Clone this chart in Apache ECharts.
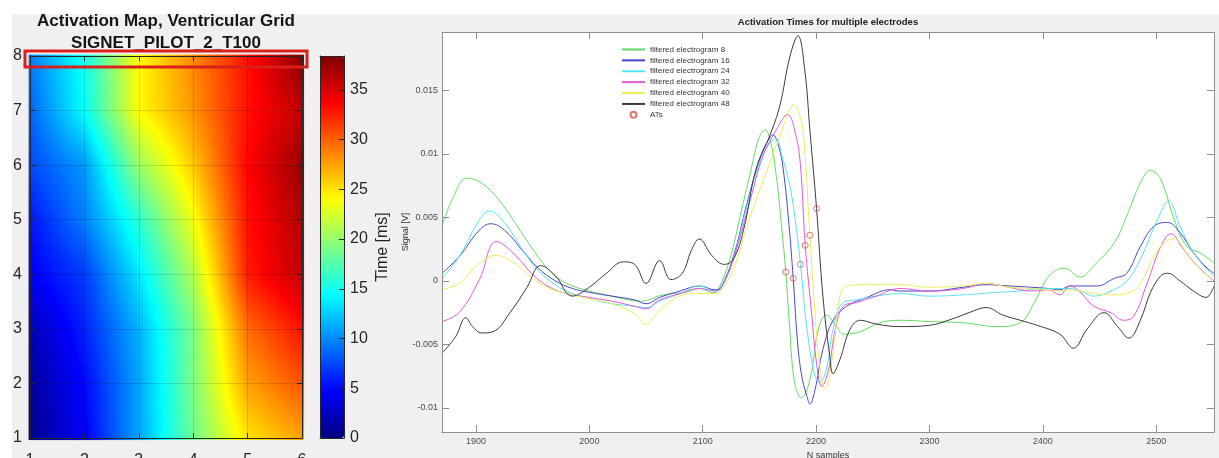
<!DOCTYPE html>
<html>
<head>
<meta charset="utf-8">
<script src="https://cdn.jsdelivr.net/npm/echarts@6/dist/echarts.min.js"></script>
<style>
  html, body { margin: 0; padding: 0; background: #ffffff; }
  #chart { width: 1219px; height: 458px; }
</style>
</head>
<body>
<div id="chart"></div>
<script>
// ---------- Activation map: 6 x 8 electrode grid ----------
const gridCols = [1, 2, 3, 4, 5, 6];
const gridRows = [1, 2, 3, 4, 5, 6, 7, 8];
// activation time in ms, one row per grid row (y = 1 at the bottom up to y = 8)
const activationMs = [
  [0.5, 4.5, 11.0, 18.5, 25.0, 27.5],
  [1.0, 5.0, 11.0, 19.0, 27.5, 30.5],
  [2.0, 6.0, 11.5, 19.0, 29.5, 33.0],
  [4.5, 7.0, 13.5, 21.0, 32.5, 36.0],
  [5.5, 9.5, 16.0, 23.5, 33.0, 36.5],
  [7.5, 10.5, 20.0, 26.0, 33.5, 37.5],
  [8.5, 14.5, 24.0, 28.0, 33.0, 36.0],
  [9.5, 15.0, 24.0, 28.5, 33.0, 38.0]
];
const colorbarMax = 38.4;
const colorbarTicks = [0, 5, 10, 15, 20, 25, 30, 35];

// ---------- Electrogram traces ----------
const xTicks = [1900, 2000, 2100, 2200, 2300, 2400, 2500];
const yTicks = [-0.01, -0.005, 0, 0.005, 0.01, 0.015];

const egm8 = [[1870,0.0043],[1880,0.0066],[1892,0.0081],[1905,0.0077],[1920,0.0064],[1935,0.0045],[1950,0.0025],[1965,0.0008],[1980,-0.0002],[2000,-0.0008],[2020,-0.0012],[2045,-0.0016],[2065,-0.0011],[2085,-0.0009],[2097,-0.0006],[2110,-0.00095],[2115,-0.0004],[2121,0.0009],[2127,0.0027],[2133,0.0051],[2142,0.0085],[2149,0.0111],[2155,0.0119],[2160,0.0109],[2165,0.0082],[2169,0.0048],[2173.3,0.0007],[2176,-0.0028],[2181,-0.0080],[2187,-0.0092],[2194.5,-0.0078],[2202,-0.0038],[2209,-0.0027],[2218,-0.0036],[2224,-0.0042],[2239,-0.0040],[2256,-0.0033],[2274,-0.0031],[2300,-0.0032],[2330,-0.0033],[2360,-0.0036],[2380,-0.0033],[2392,-0.0018],[2403,0.0001],[2411,0.0008],[2419,0.0010],[2433,0.0003],[2445,0.0012],[2463,0.0030],[2474,0.0051],[2486,0.0077],[2495,0.0087],[2504,0.0080],[2516,0.0048],[2527,0.0027],[2539,0.0022],[2551,0.0014]];

const egm16 = [[1870,0.0006],[1885,0.0019],[1903,0.0040],[1913,0.0045],[1925,0.0040],[1940,0.0025],[1955,0.0010],[1970,0.0000],[1985,-0.0006],[2000,-0.0009],[2020,-0.0012],[2040,-0.0015],[2050,-0.0018],[2062,-0.0013],[2080,-0.0008],[2097,-0.0004],[2111,-0.0007],[2116,-0.0005],[2127,0.0019],[2139,0.0061],[2150,0.0095],[2156,0.0108],[2162,0.0115],[2167,0.0106],[2171,0.0088],[2176,0.0045],[2179.8,0.0002],[2184,-0.0052],[2188,-0.0078],[2192,-0.0091],[2194.5,-0.0097],[2199,-0.0086],[2206,-0.0054],[2215,-0.0031],[2227,-0.0020],[2245,-0.0013],[2265,-0.0007],[2274,-0.0008],[2300,-0.0008],[2330,-0.0005],[2350,-0.0003],[2370,-0.0004],[2390,-0.0005],[2405,-0.0006],[2415,-0.0007],[2424,-0.0004],[2433,-0.0004],[2448,-0.0004],[2463,0.0002],[2474,0.0006],[2486,0.0027],[2498,0.0043],[2510,0.0046],[2521,0.0038],[2533,0.0022],[2545,0.0010],[2551,0.0006]];

const egm24 = [[1870,0.0002],[1885,0.0019],[1903,0.0048],[1912,0.0055],[1925,0.0046],[1940,0.0026],[1955,0.0008],[1970,-0.0003],[1985,-0.0010],[2000,-0.0014],[2020,-0.0018],[2040,-0.0020],[2050,-0.0021],[2062,-0.0016],[2080,-0.0010],[2097,-0.0004],[2111,-0.0008],[2116,-0.0006],[2127,0.0017],[2139,0.0059],[2150,0.0093],[2158,0.0107],[2164.5,0.0112],[2170,0.0098],[2177,0.0074],[2182,0.0045],[2186.2,0.0013],[2192,-0.0038],[2199,-0.0075],[2203,-0.0080],[2209,-0.0070],[2215,-0.0038],[2224,-0.0017],[2236,-0.0015],[2253,-0.0012],[2274,-0.0010],[2300,-0.0012],[2330,-0.0011],[2360,-0.0009],[2380,-0.0008],[2400,-0.0006],[2415,-0.0006],[2424,-0.0006],[2433,-0.0008],[2445,-0.0012],[2460,-0.0008],[2474,0.0000],[2486,0.0017],[2501,0.0048],[2511,0.0063],[2521,0.0043],[2533,0.0022],[2545,0.0009],[2551,0.0004]];

const egm32 = [[1870,-0.0032],[1885,-0.0025],[1903,0.0001],[1918,0.0031],[1935,0.0020],[1950,0.0005],[1965,-0.0005],[1980,-0.0010],[2000,-0.0013],[2020,-0.0016],[2040,-0.0020],[2050,-0.0022],[2062,-0.0015],[2080,-0.0010],[2097,-0.0006],[2111,-0.0008],[2116,-0.0006],[2127,0.0017],[2142,0.0064],[2153,0.0098],[2165,0.0119],[2175,0.0131],[2181,0.0119],[2186,0.0093],[2190.4,0.0028],[2196,-0.0025],[2200.4,-0.0065],[2205,-0.0083],[2211,-0.0070],[2217,-0.0038],[2224,-0.0020],[2236,-0.0017],[2253,-0.0012],[2274,-0.0006],[2300,-0.0008],[2330,-0.0006],[2350,-0.0002],[2370,-0.0005],[2390,-0.0008],[2405,-0.0007],[2415,-0.0011],[2424,-0.0004],[2433,-0.0009],[2445,-0.0020],[2460,-0.0025],[2471,-0.0031],[2480,-0.0028],[2492,-0.0002],[2504,0.0027],[2513,0.0037],[2524,0.0025],[2536,0.0012],[2551,0.0000]];

const egm40 = [[1870,-0.0007],[1885,-0.0002],[1903,0.0014],[1918,0.0020],[1935,0.0013],[1950,0.0002],[1965,-0.0006],[1980,-0.0010],[2000,-0.0014],[2020,-0.0018],[2040,-0.0026],[2050,-0.0034],[2060,-0.0025],[2075,-0.0014],[2090,-0.0010],[2097,-0.0010],[2111,-0.0010],[2116,-0.0008],[2127,0.0009],[2142,0.0051],[2156,0.0085],[2168,0.0114],[2175,0.0131],[2180.3,0.0139],[2185,0.0132],[2189,0.0114],[2194.5,0.0036],[2199,-0.0025],[2203,-0.0065],[2208,-0.0085],[2215,-0.0056],[2221,-0.0012],[2227,-0.0004],[2245,-0.0003],[2274,-0.0003],[2300,-0.0005],[2330,-0.0004],[2350,-0.0002],[2370,-0.0005],[2390,-0.0006],[2405,-0.0007],[2415,-0.0008],[2424,-0.0007],[2433,-0.0008],[2445,-0.0010],[2460,-0.0011],[2477,-0.0009],[2486,-0.0002],[2498,0.0019],[2507,0.0030],[2516,0.0033],[2527,0.0022],[2539,0.0009],[2551,0.0001]];

const egm48 = [[1870,-0.0057],[1882,-0.0044],[1891,-0.0029],[1897,-0.0036],[1905,-0.0041],[1915,-0.0040],[1930,-0.0025],[1945,-0.0005],[1957,0.0012],[1970,0.0004],[1985,-0.0012],[2000,-0.0005],[2015,0.0006],[2030,0.0015],[2040,0.0013],[2050,-0.0002],[2062,0.0016],[2072,0.0001],[2082,0.0006],[2090,0.0024],[2097,0.0033],[2108,0.0020],[2119,0.0013],[2127,0.0017],[2136,0.0040],[2147,0.0088],[2159,0.0114],[2168,0.0138],[2177,0.0177],[2184,0.0193],[2190,0.0166],[2194.5,0.0119],[2200.4,0.0057],[2206,-0.0012],[2212,-0.0059],[2215,-0.0073],[2221,-0.0062],[2230,-0.0038],[2239,-0.0031],[2253,-0.0034],[2274,-0.0036],[2300,-0.0035],[2320,-0.0030],[2335,-0.0025],[2350,-0.0021],[2365,-0.0027],[2380,-0.0031],[2395,-0.0035],[2415,-0.0042],[2427,-0.0053],[2439,-0.0038],[2454,-0.0025],[2466,-0.0036],[2476,-0.0045],[2486,-0.0031],[2495,-0.0009],[2504,0.0004],[2510,0.0006],[2521,0.0000],[2533,-0.0008],[2544,-0.0013],[2551,-0.0004]];

// activation time picked on each trace (sample, signal)
const atPoints = [[2173.3,0.0007],[2179.8,0.0002],[2186.2,0.0013],[2190.4,0.0028],[2194.5,0.0036],[2200.4,0.0057]];

const traceNames = ['filtered electrogram 8', 'filtered electrogram 16', 'filtered electrogram 24',
                    'filtered electrogram 32', 'filtered electrogram 40', 'filtered electrogram 48'];
const traceData = [egm8, egm16, egm24, egm32, egm40, egm48];
const traceColors = ['#62da62', '#4646c8', '#55e2f2', '#dc58dc', '#ecec5a', '#3a3a3a'];

const FONT = '"Liberation Sans", Arial, Helvetica, sans-serif';
const JET = ['#000080', '#0000ff', '#0080ff', '#00ffff', '#80ff80', '#ffff00', '#ff8000', '#ff0000', '#800000'];

// Interpolated shading between the electrode nodes (bilinear inside each grid cell)
const SUB = 20;
function nodeValue(x, y) {
  const nx = gridCols.length - 1, ny = gridRows.length - 1;
  const gx = x - gridCols[0], gy = y - gridRows[0];
  const i = Math.min(Math.floor(gx), nx - 1), j = Math.min(Math.floor(gy), ny - 1);
  const fx = gx - i, fy = gy - j;
  const a = activationMs[j][i], b = activationMs[j][i + 1];
  const c = activationMs[j + 1][i], d = activationMs[j + 1][i + 1];
  return (a * (1 - fx) + b * fx) * (1 - fy) + (c * (1 - fx) + d * fx) * fy;
}
const shading = [];
for (let i = 0; i <= (gridCols.length - 1) * SUB; i++) {
  const x = gridCols[0] + i / SUB;
  for (let j = 0; j <= (gridRows.length - 1) * SUB; j++) {
    const y = gridRows[0] + j / SUB;
    shading.push([x, y, nodeValue(x, y)]);
  }
}

const chart = echarts.init(document.getElementById('chart'), null, { renderer: 'canvas' });

const mapAxisLine = { show: true, onZero: false, lineStyle: { color: '#262626', width: 1 } };
const sigAxisLine = { show: true, onZero: false, lineStyle: { color: '#8f8f8f', width: 1 } };
const plainNumber = v => String(+Number(v).toFixed(4));
// line legend entries show only the stroke, no marker
const hiddenMarker = { color: 'rgba(0,0,0,0)', borderColor: 'rgba(0,0,0,0)', borderWidth: 0, opacity: 0 };

const option = {
  animation: false,
  backgroundColor: '#f0f0f0',
  title: [
    {
      text: 'Activation Map, Ventricular Grid\nSIGNET_PILOT_2_T100',
      left: 166, top: 10, textAlign: 'center', padding: 0,
      textStyle: { fontFamily: FONT, fontSize: 17, fontWeight: 'bold', lineHeight: 22, color: '#151515' }
    },
    {
      text: 'Activation Times for multiple electrodes',
      left: 828, top: 17, textAlign: 'center', padding: 0,
      textStyle: { fontFamily: FONT, fontSize: 9.5, fontWeight: 'bold', color: '#222222' }
    }
  ],
  legend: {
    orient: 'vertical', left: 621, top: 44, padding: 0,
    itemWidth: 23, itemHeight: 6, itemGap: 0, selectedMode: false,
    textStyle: { fontFamily: FONT, fontSize: 8, lineHeight: 10.9, color: '#333333' },
    data: traceNames.map(n => ({ name: n, itemStyle: hiddenMarker })).concat([{ name: 'ATs' }])
  },
  grid: [
    { left: 30, top: 56, width: 272, height: 382, containLabel: false, outerBoundsMode: 'none' },
    { left: 320, top: 56, width: 24, height: 382, containLabel: false, outerBoundsMode: 'none' },
    { left: 442, top: 32, width: 772, height: 400, containLabel: false, outerBoundsMode: 'none',
      show: true, backgroundColor: '#ffffff', borderWidth: 0 }
  ],
  visualMap: {
    type: 'continuous', seriesIndex: 0, dimension: 2,
    min: 0, max: colorbarMax, calculable: false, realtime: false,
    left: 320, top: 56, itemWidth: 24, itemHeight: 382, padding: 0,
    text: null, showLabel: false, hoverLink: false,
    inRange: { color: JET }
  },
  xAxis: [
    { gridIndex: 0, type: 'value', min: 1, max: 6, interval: 1, position: 'bottom', z: 3,
      axisLine: mapAxisLine, axisTick: { inside: true, length: 5, lineStyle: { color: '#262626' } },
      axisLabel: { fontFamily: FONT, fontSize: 16, color: '#262626', margin: 15 },
      splitLine: { show: true, lineStyle: { color: 'rgba(0,0,0,0.13)', width: 1 } } },
    { gridIndex: 0, type: 'value', min: 1, max: 6, interval: 1, position: 'top', z: 3,
      axisLine: mapAxisLine, axisTick: { inside: true, length: 5, lineStyle: { color: '#262626' } },
      axisLabel: { show: false }, splitLine: { show: false } },
    { gridIndex: 1, type: 'value', min: 0, max: 1, position: 'bottom', z: 5,
      axisLine: mapAxisLine, axisTick: { show: false }, axisLabel: { show: false }, splitLine: { show: false } },
    { gridIndex: 1, type: 'value', min: 0, max: 1, position: 'top', z: 5,
      axisLine: mapAxisLine, axisTick: { show: false }, axisLabel: { show: false }, splitLine: { show: false } },
    { gridIndex: 2, type: 'value', min: 1870, max: 2551, position: 'bottom', z: 3,
      axisLine: sigAxisLine,
      axisTick: { inside: true, length: 7, customValues: xTicks, lineStyle: { color: '#8f8f8f' } },
      axisLabel: { customValues: xTicks, fontFamily: FONT, fontSize: 9, color: '#4d4d4d', margin: 5,
                   formatter: plainNumber },
      splitLine: { show: false },
      name: 'N samples', nameLocation: 'middle', nameGap: 18,
      nameTextStyle: { fontFamily: FONT, fontSize: 9, color: '#333333' } },
    { gridIndex: 2, type: 'value', min: 1870, max: 2551, position: 'top', z: 3,
      axisLine: sigAxisLine,
      axisTick: { inside: true, length: 7, customValues: xTicks, lineStyle: { color: '#8f8f8f' } },
      axisLabel: { show: false }, splitLine: { show: false } }
  ],
  yAxis: [
    { gridIndex: 0, type: 'value', min: 1, max: 8, interval: 1, position: 'left', z: 3,
      axisLine: mapAxisLine, axisTick: { inside: true, length: 5, lineStyle: { color: '#262626' } },
      axisLabel: { fontFamily: FONT, fontSize: 16, color: '#262626', margin: 8 },
      splitLine: { show: true, lineStyle: { color: 'rgba(0,0,0,0.13)', width: 1 } } },
    { gridIndex: 0, type: 'value', min: 1, max: 8, interval: 1, position: 'right', z: 3,
      axisLine: mapAxisLine, axisTick: { inside: true, length: 5, lineStyle: { color: '#262626' } },
      axisLabel: { show: false }, splitLine: { show: false } },
    { gridIndex: 1, type: 'value', min: 0, max: colorbarMax, position: 'right', z: 5,
      axisLine: mapAxisLine,
      axisTick: { inside: true, length: 5, customValues: colorbarTicks, lineStyle: { color: '#262626' } },
      axisLabel: { customValues: colorbarTicks, fontFamily: FONT, fontSize: 16, color: '#262626', margin: 6 },
      splitLine: { show: false },
      name: 'Time [ms]', nameLocation: 'middle', nameRotate: 90, nameGap: 31,
      nameTextStyle: { fontFamily: FONT, fontSize: 16, color: '#262626' } },
    { gridIndex: 1, type: 'value', min: 0, max: colorbarMax, position: 'left', z: 5,
      axisLine: mapAxisLine, axisTick: { show: false }, axisLabel: { show: false }, splitLine: { show: false } },
    { gridIndex: 2, type: 'value', min: -0.0119, max: 0.0196, position: 'left', z: 3,
      axisLine: sigAxisLine,
      axisTick: { inside: true, length: 7, customValues: yTicks, lineStyle: { color: '#8f8f8f' } },
      axisLabel: { customValues: yTicks, fontFamily: FONT, fontSize: 9, color: '#4d4d4d', margin: 4,
                   formatter: plainNumber },
      splitLine: { show: false },
      name: 'Signal [V]', nameLocation: 'middle', nameRotate: 90, nameGap: 32, nameMoveOverlap: false,
      nameTextStyle: { fontFamily: FONT, fontSize: 9, color: '#333333' } },
    { gridIndex: 2, type: 'value', min: -0.0119, max: 0.0196, position: 'right', z: 3,
      axisLine: sigAxisLine,
      axisTick: { inside: true, length: 7, customValues: yTicks, lineStyle: { color: '#8f8f8f' } },
      axisLabel: { show: false }, splitLine: { show: false } }
  ],
  series: [
    {
      type: 'custom', name: 'activation', xAxisIndex: 0, yAxisIndex: 0,
      data: shading, encode: { x: 0, y: 1 }, clip: true, silent: true,
      renderItem: function (params, api) {
        const h = 0.5 / SUB;
        const x = api.value(0), y = api.value(1);
        const p0 = api.coord([x - h, y + h]);
        const p1 = api.coord([x + h, y - h]);
        return {
          type: 'rect',
          shape: { x: p0[0], y: p0[1], width: p1[0] - p0[0] + 0.7, height: p1[1] - p0[1] + 0.7 },
          style: { fill: api.visual('color') }
        };
      }
    }
  ].concat(traceData.map((d, k) => ({
    type: 'line', name: traceNames[k], xAxisIndex: 4, yAxisIndex: 4,
    data: d, symbol: 'none', smooth: 0.4, clip: true,
    lineStyle: { color: traceColors[k], width: 1 }, itemStyle: { color: traceColors[k] },
    z: 2 + k * 0.01
  }))).concat([{
    type: 'scatter', name: 'ATs', xAxisIndex: 4, yAxisIndex: 4, data: atPoints,
    symbol: 'circle', symbolSize: 6, z: 3,
    itemStyle: { color: 'rgba(0,0,0,0)', borderColor: '#e0504a', borderWidth: 1 }
  }])
};

chart.setOption(option);

// white page margin round the figure panel, and the highlight round the top electrode row
const topLeft = chart.convertToPixel({ xAxisIndex: 0, yAxisIndex: 0 }, [gridCols[0], gridRows[gridRows.length - 1]]);
const rowBottomRight = chart.convertToPixel({ xAxisIndex: 0, yAxisIndex: 0 },
  [gridCols[gridCols.length - 1], gridRows[gridRows.length - 1] - 0.2]);
chart.setOption({
  graphic: [
    { type: 'rect', silent: true, z: 0, shape: { x: 0, y: 0, width: 1219, height: 14 }, style: { fill: '#ffffff' } },
    { type: 'rect', silent: true, z: 0, shape: { x: 0, y: 0, width: 12, height: 458 }, style: { fill: '#ffffff' } },
    { type: 'rect', silent: true, z: 10,
      shape: { x: topLeft[0] - 5, y: topLeft[1] - 5,
               width: rowBottomRight[0] - topLeft[0] + 10, height: rowBottomRight[1] - topLeft[1] + 5 },
      style: { fill: 'none', stroke: '#d8201c', lineWidth: 3 } }
  ]
});
</script>
</body>
</html>
